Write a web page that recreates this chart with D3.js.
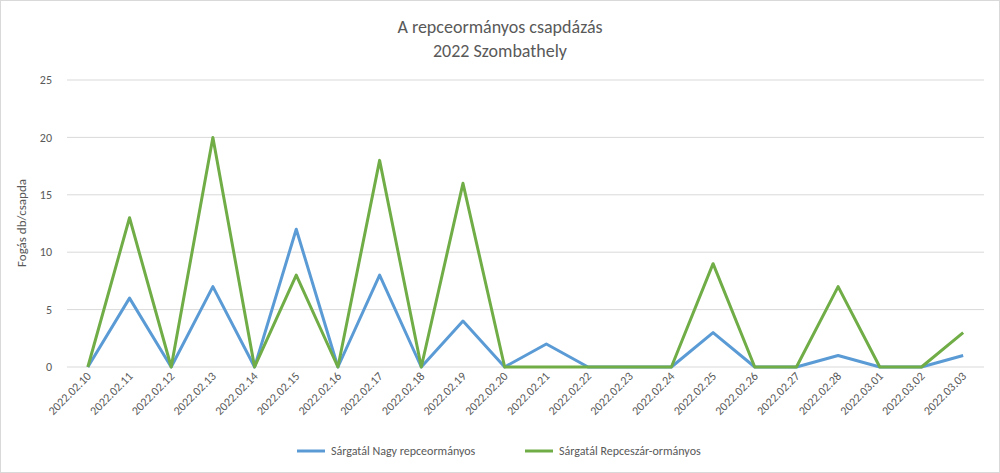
<!DOCTYPE html>
<html>
<head>
<meta charset="utf-8">
<script src="https://cdn.jsdelivr.net/npm/d3@7"></script>
<style>
  body { margin: 0; background: #fff; }
  svg { font-family: Calibri, Carlito, "Open Sans", sans-serif; }
</style>
</head>
<body>
<svg id="chart"></svg>
<script>
const dates = ["2022.02.10","2022.02.11","2022.02.12","2022.02.13","2022.02.14","2022.02.15","2022.02.16",
  "2022.02.17","2022.02.18","2022.02.19","2022.02.20","2022.02.21","2022.02.22","2022.02.23","2022.02.24",
  "2022.02.25","2022.02.26","2022.02.27","2022.02.28","2022.03.01","2022.03.02","2022.03.03"];
const nagyValues = [0,6,0,7,0,12,0,8,0,4,0,2,0,0,0,3,0,0,1,0,0,1];
const repceszarValues = [0,13,0,20,0,8,0,18,0,16,0,0,0,0,0,9,0,0,7,0,0,3];
const yTicks = [0,5,10,15,20,25];
const seriesNames = ["Sárgatál Nagy repceormányos", "Sárgatál Repceszár-ormányos"];
const colors = ["#5b9bd5", "#70ad47"];

const width = 1000, height = 473;
const svg = d3.select("#chart").attr("width", width).attr("height", height);

svg.append("rect").attr("x", 0.5).attr("y", 0.5).attr("width", width - 1).attr("height", height - 1)
  .attr("fill", "#fff").attr("stroke", "#d9d9d9");

// Scales
const x = d3.scalePoint().domain(dates).range([67, 984]).padding(0.5);
const y = d3.scaleLinear().domain([0, 25]).range([367, 80]);

// Gridlines
svg.append("g").selectAll("line").data(yTicks).join("line")
  .attr("x1", 67).attr("x2", 984)
  .attr("y1", d => y(d)).attr("y2", d => y(d))
  .attr("stroke", "#d9d9d9").attr("stroke-width", 1);

// Y axis labels
svg.append("g").selectAll("text").data(yTicks).join("text")
  .attr("x", 52).attr("y", d => y(d)).attr("dy", "0.35em")
  .attr("text-anchor", "end").attr("font-size", 12).attr("fill", "#595959")
  .text(d => d);

// X axis labels
svg.append("g").selectAll("text").data(dates).join("text")
  .attr("transform", d => `translate(${x(d) + 4},${377}) rotate(-45)`)
  .attr("text-anchor", "end").attr("font-size", 12).attr("fill", "#595959")
  .text(d => d);

// Lines
const line = d3.line().x((d, i) => x(dates[i])).y(d => y(d));
[nagyValues, repceszarValues].forEach((vals, i) => {
  svg.append("path").datum(vals)
    .attr("fill", "none").attr("stroke", colors[i]).attr("stroke-width", 3)
    .attr("stroke-linejoin", "round").attr("d", line);
});

// Titles
svg.append("text").attr("x", 500).attr("y", 33).attr("text-anchor", "middle")
  .attr("font-size", 18).attr("fill", "#595959").text("A repceormányos csapdázás");
svg.append("text").attr("x", 500).attr("y", 57).attr("text-anchor", "middle")
  .attr("font-size", 18).attr("fill", "#595959").text("2022 Szombathely");

svg.append("text").attr("transform", "translate(26,223) rotate(-90)")
  .attr("text-anchor", "middle").attr("font-size", 13).attr("fill", "#595959")
  .text("Fogás db/csapda");

// Legend
const legendX = [297, 525];
seriesNames.forEach((name, i) => {
  const g = svg.append("g").attr("transform", `translate(${legendX[i]},451)`);
  g.append("line").attr("x1", 0).attr("x2", 28).attr("stroke", colors[i]).attr("stroke-width", 3);
  g.append("text").attr("x", 34).attr("dy", "0.35em").attr("font-size", 12)
    .attr("fill", "#595959").text(name);
});
</script>
</body>
</html>
